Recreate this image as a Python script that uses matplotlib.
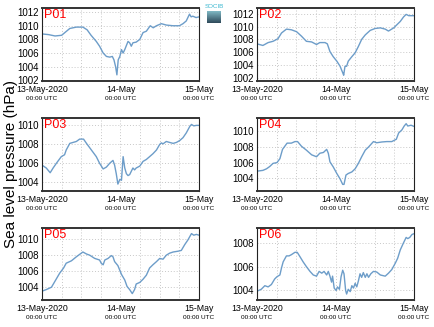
import numpy as np
import matplotlib
matplotlib.use("Agg")
import matplotlib.pyplot as plt

plt.rcParams['font.family'] = ['Liberation Sans', 'DejaVu Sans']

panel_names = ["P01", "P02", "P03", "P04", "P05", "P06"]

p01_h = [0, 2, 4, 6, 7, 8.5, 10.5, 12.5, 13.8, 15, 16.6, 17.6, 18.7, 19.7, 20.7, 21.5, 22.0, 22.5, 22.9, 23.3, 23.8,
         24.3, 24.8, 25.3, 26.3, 26.8, 27.3, 27.8, 28.8, 29.9, 30.9, 31.9, 33.1, 34, 35, 36.5, 38, 40, 42, 43.1, 44.1,
         45.1, 45.6, 46.1, 47.1, 48]
p01_v = [1008.8, 1008.7, 1008.5, 1008.6, 1009.0, 1009.6, 1009.8, 1009.8, 1009.4, 1008.6, 1007.7, 1007.0, 1006.0,
         1005.5, 1005.4, 1005.5, 1005.0, 1004.0, 1002.8, 1005.0, 1005.5, 1006.5, 1006.0, 1006.5, 1007.7, 1007.5,
         1007.0, 1007.5, 1007.6, 1008.0, 1009.0, 1009.2, 1010.0, 1009.7, 1010.0, 1010.3, 1010.1, 1010.0, 1010.0,
         1010.3, 1010.7, 1011.7, 1011.3, 1011.4, 1011.2, 1011.3]

p02_h = [0, 1.8, 3.4, 4.9, 6.4, 7.5, 9, 10.5, 12.1, 13.6, 15.1, 16.7, 18.2, 19.2, 20.8, 21.5, 22.3, 23.3, 24.4, 25.4,
         26.2, 26.5, 26.9, 27.4, 27.9, 29, 30, 31, 32, 33.1, 34.6, 36.1, 37.7, 39.2, 40.2, 41.8, 42.8, 43.8, 44.8,
         45.6, 46.4, 48]
p02_v = [1007.3, 1007.05, 1007.5, 1007.7, 1008.1, 1009.0, 1009.6, 1009.5, 1009.2, 1008.5, 1007.7, 1007.6, 1007.2,
         1007.5, 1007.5, 1007.3, 1006.1, 1005.3, 1004.6, 1003.8, 1002.8, 1002.4, 1003.8, 1003.8, 1004.6, 1005.3,
         1005.9, 1006.9, 1008.0, 1008.7, 1009.4, 1009.7, 1009.8, 1009.6, 1009.3, 1009.8, 1010.3, 1010.8, 1011.5,
         1011.9, 1011.7, 1011.7]

p03_h = [0, 1.3, 2.5, 3.4, 4.4, 5.9, 6.9, 7.4, 8.5, 9.5, 10.5, 11.5, 12.7, 13.6, 15.1, 16.6, 17.6, 18.7, 19.7, 20.7,
         21.7, 22.2, 22.7, 23.2, 23.8, 24.3, 24.8, 25.3, 25.8, 26.3, 26.8, 27.8, 28.3, 28.8, 29.9, 30.9, 31.9, 32.9,
         33.9, 35, 36, 36.5, 37, 38, 39, 40.1, 41.1, 42.1, 43.1, 44.1, 45.2, 45.7, 46.4, 47.2, 48]
p03_v = [1005.8, 1005.5, 1005.0, 1005.5, 1006.0, 1006.7, 1006.9, 1007.4, 1008.1, 1008.2, 1008.3, 1008.55, 1008.55,
         1008.1, 1007.4, 1006.7, 1006.0, 1005.4, 1005.6, 1006.0, 1006.3, 1005.8, 1004.9, 1003.8, 1004.3, 1004.2,
         1006.7, 1005.5, 1004.9, 1004.7, 1004.8, 1005.5, 1005.3, 1005.5, 1005.7, 1006.2, 1006.4, 1006.7, 1007.0,
         1007.4, 1008.0, 1008.15, 1008.05, 1008.3, 1008.2, 1008.1, 1008.2, 1008.4, 1008.7, 1009.2, 1009.9, 1010.1,
         1009.95, 1010.0, 1010.0]

p04_h = [0, 1.8, 2.9, 3.9, 4.9, 6.1, 7, 7.8, 9.2, 10.5, 11.6, 12.4, 13.6, 15.1, 16.7, 18.2, 19.2, 20.3, 21.3, 21.8,
         22.3, 23.3, 24.4, 25.4, 26.2, 26.6, 27.2, 27.9, 29, 30, 31, 32, 33.1, 34.1, 35.6, 36.6, 38.2, 39.7, 41.2,
         42.6, 43.3, 44.3, 45, 45.6, 46.1, 47.1, 48]
p04_v = [1004.9, 1005.0, 1005.2, 1005.5, 1005.9, 1006.0, 1006.5, 1007.7, 1008.5, 1008.5, 1008.7, 1008.7, 1008.1,
         1007.6, 1007.0, 1006.75, 1007.2, 1007.3, 1007.7, 1007.2, 1006.1, 1005.45, 1004.6, 1003.9, 1003.2, 1003.2,
         1004.4, 1004.6, 1004.8, 1005.2, 1005.9, 1006.75, 1007.6, 1008.0, 1008.7, 1008.55, 1008.65, 1008.7, 1008.7,
         1009.0, 1009.8, 1010.2, 1010.7, 1011.0, 1010.7, 1010.8, 1010.65]

p05_h = [0, 1.3, 2.9, 3.9, 5.4, 6.6, 7.4, 9, 10.5, 11.5, 12.5, 13.6, 14.6, 16.1, 17.6, 18.1, 18.7, 19.2, 20.2, 21.2,
         21.7, 22.2, 23.2, 24.3, 25.3, 26, 26.8, 27.6, 28.3, 28.8, 29.9, 30.9, 31.9, 32.9, 33.9, 35, 36, 37, 38, 39,
         40.1, 41.6, 42.6, 43.6, 44.6, 45.7, 46.4, 47.2, 48]
p05_v = [1003.5, 1003.7, 1004.0, 1004.7, 1005.75, 1006.4, 1007.0, 1007.3, 1007.8, 1008.1, 1008.4, 1008.15, 1008.0,
         1007.6, 1007.4, 1007.0, 1006.8, 1007.4, 1007.6, 1007.95, 1007.8, 1007.2, 1006.7, 1005.6, 1004.9, 1004.1,
         1003.7, 1003.2, 1003.7, 1004.4, 1004.6, 1005.0, 1005.5, 1006.4, 1006.8, 1007.2, 1007.6, 1007.5, 1008.0,
         1008.25, 1008.4, 1008.5, 1008.6, 1009.3, 1009.9, 1010.7, 1010.5, 1010.6, 1010.5]

p06_h = [0, 1.3, 2.4, 3.4, 4.4, 5.4, 6.1, 7, 7.5, 8, 9, 9.8, 10.5, 11.6, 12.3, 13.1, 14.1, 15.1, 16.2, 17.2, 18.2,
         19.0, 19.8, 20.5, 21.3, 21.8, 22.3, 22.8, 23.1, 23.6, 24.2, 24.6, 25.2, 25.7, 26.2, 26.6, 27.1, 27.4, 27.9,
         28.5, 29, 29.5, 30, 30.5, 31, 31.5, 32, 32.5, 33.1, 33.6, 34.1, 34.8, 35.6, 36.6, 37.7, 39.2, 40.2, 41.2,
         42.3, 43, 43.8, 44.8, 45.6, 46.1, 46.7, 47.4, 48]
p06_v = [1003.94, 1004.1, 1004.4, 1004.3, 1004.5, 1004.96, 1005.15, 1005.3, 1005.9, 1006.4, 1006.9, 1006.9, 1007.0,
         1007.2, 1007.2, 1006.85, 1006.4, 1006.0, 1005.6, 1005.3, 1005.2, 1005.6, 1005.45, 1005.6, 1005.3, 1005.6,
         1005.2, 1004.7, 1005.2, 1004.2, 1004.0, 1004.3, 1004.1, 1005.15, 1005.7, 1005.4, 1004.0, 1003.7, 1004.1,
         1003.9, 1004.4, 1004.2, 1004.6, 1004.3, 1004.8, 1005.4, 1005.1, 1005.5, 1005.1, 1005.4, 1005.1, 1005.4,
         1005.6, 1005.55, 1005.3, 1005.2, 1005.45, 1005.75, 1006.3, 1006.7, 1007.4, 1008.0, 1008.45, 1008.35,
         1008.45, 1008.7, 1008.76]

series_h = [p01_h, p02_h, p03_h, p04_h, p05_h, p06_h]
series_v = [p01_v, p02_v, p03_v, p04_v, p05_v, p06_v]
ylims = [(1001.9, 1012.6), (1001.5, 1012.9), (1003.07, 1010.78), (1002.35, 1011.73), (1002.4, 1011.4), (1003.2, 1009.24)]
yticks = [[1002, 1004, 1006, 1008, 1010, 1012], [1002, 1004, 1006, 1008, 1010, 1012], [1004, 1006, 1008, 1010],
          [1004, 1006, 1008, 1010], [1004, 1006, 1008, 1010], [1004, 1006, 1008]]
xtick_hours = [0, 24, 48]
xtick_dates = ["13-May-2020", "14-May", "15-May"]
xtick_times = ["00:00 UTC", "00:00 UTC", "00:00 UTC"]
ylabel = "Sea level pressure (hPa)"

W, H = 434, 327
fig = plt.figure(figsize=(W / 100, H / 100), dpi=100)

cols = [42, 257]
rows = [(8, 81), (118, 191), (228, 300)]
axw = 157

for i in range(6):
    r, c = divmod(i, 2)
    top, bot = rows[r]
    ax = fig.add_axes([cols[c] / W, 1 - bot / H, axw / W, (bot - top) / H])
    ax.plot(series_h[i], series_v[i], color='#6d9dc9', lw=1.0)
    ax.set_xlim(0, 48)
    ax.set_ylim(*ylims[i])
    ax.set_yticks(yticks[i])
    ax.set_xticks(xtick_hours)
    ax.set_xticklabels([])
    ax.set_xticks(np.arange(0, 49, 6), minor=True)
    ax.grid(True, which='both', axis='x', color='#c8c8c8', ls=(0, (1, 2)), lw=0.7)
    ax.grid(True, which='major', axis='y', color='#c8c8c8', ls=(0, (1, 2)), lw=0.7)
    ax.tick_params(axis='both', which='both', length=0, labelsize=7, pad=2)
    for s in ['left', 'right']:
        ax.spines[s].set_linewidth(0.8)
        ax.spines[s].set_color('#222222')
    for s in ['top', 'bottom']:
        ax.spines[s].set_linewidth(1.4)
        ax.spines[s].set_color('#333333')
    ax.text(0.015, 0.98, panel_names[i], transform=ax.transAxes, color='red', fontsize=9, va='top', ha='left')
    for xh, d, t in zip(xtick_hours, xtick_dates, xtick_times):
        ax.text(xh, -0.06, d, transform=ax.get_xaxis_transform(), ha='center', va='top', fontsize=6.3)
        ax.text(xh, -0.21, t, transform=ax.get_xaxis_transform(), ha='center', va='top', fontsize=4.6)

fig.text(11 / W, 1 - 164 / H, ylabel, rotation=90, ha='center', va='center', fontsize=11)

# logo
lax = fig.add_axes([207 / W, 1 - 23 / H, 14 / W, 12 / H])
grad = np.linspace(0, 1, 50).reshape(-1, 1)
lax.imshow(grad, aspect='auto', cmap=matplotlib.colors.LinearSegmentedColormap.from_list('g', ['#7fb8c4', '#2f4a5a']))
lax.axis('off')
fig.text(214 / W, 1 - 7 / H, "SOCIB", color='#3ab7d0', fontsize=4.5, ha='center', va='center')

fig.savefig("out.png", dpi=100)
